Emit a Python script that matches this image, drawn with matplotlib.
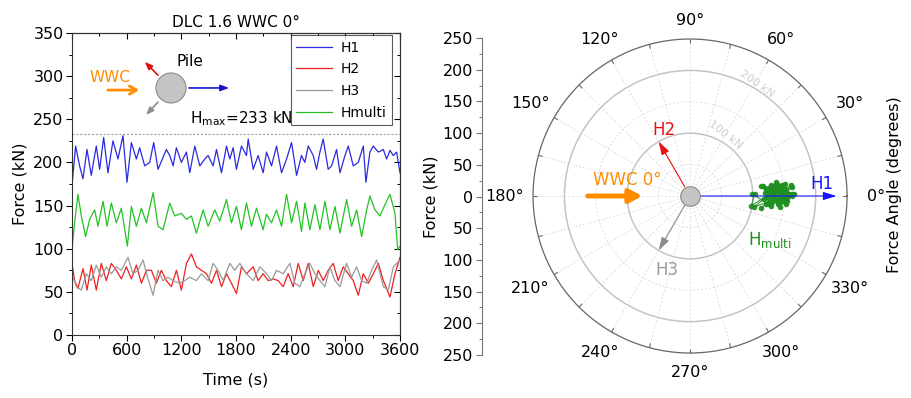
import numpy as np
import matplotlib
matplotlib.use("Agg")
import matplotlib.pyplot as plt
from matplotlib.ticker import MultipleLocator, FuncFormatter
from matplotlib.patches import Ellipse

# ---------------- data ----------------
t_h1 = [0, 40, 84, 121, 165, 212, 267, 304, 348, 395,
        450, 505, 560, 604, 652, 707, 743, 798, 853, 897,
        945, 992, 1036, 1073, 1110, 1146, 1201, 1256, 1293, 1348,
        1403, 1458, 1494, 1549, 1586, 1641, 1696, 1732, 1769, 1805,
        1860, 1915, 1934, 1989, 2043, 2098, 2135, 2190, 2245, 2300,
        2355, 2410, 2465, 2519, 2556, 2593, 2648, 2684, 2721, 2757,
        2812, 2849, 2904, 2941, 2996, 3032, 3087, 3142, 3197, 3226,
        3270, 3307, 3362, 3417, 3453, 3490, 3526, 3563, 3600]
h1 = [173, 219, 196, 181, 215, 185, 219, 192, 229, 188,
      225, 204, 231, 177, 223, 204, 217, 196, 200, 223,
      192, 204, 215, 208, 196, 217, 200, 212, 188, 219,
      196, 204, 208, 196, 215, 188, 219, 204, 217, 192,
      219, 208, 227, 192, 208, 188, 212, 196, 219, 188,
      204, 223, 185, 208, 200, 219, 208, 192, 212, 227,
      192, 196, 215, 188, 208, 219, 196, 200, 219, 177,
      212, 219, 212, 215, 204, 214, 208, 212, 188]

t_h2 = [0, 29, 66, 121, 165, 212, 267, 322, 377, 432,
        487, 542, 597, 652, 707, 762, 817, 872, 926, 981,
        1036, 1091, 1146, 1201, 1256, 1311, 1366, 1421, 1476, 1531,
        1586, 1641, 1696, 1750, 1805, 1860, 1915, 1989, 2043, 2098,
        2153, 2208, 2263, 2318, 2373, 2428, 2483, 2538, 2593, 2648,
        2703, 2757, 2812, 2867, 2922, 2977, 3032, 3087, 3142, 3197,
        3252, 3307, 3362, 3417, 3490, 3545, 3600]
h2 = [83, 63, 54, 77, 52, 81, 52, 83, 63, 83,
      75, 65, 79, 65, 81, 60, 75, 75, 60, 75,
      63, 56, 75, 52, 83, 94, 79, 75, 71, 60,
      75, 56, 71, 60, 48, 79, 71, 79, 63, 71,
      63, 65, 63, 56, 71, 56, 83, 63, 83, 56,
      75, 63, 75, 83, 63, 79, 71, 63, 46, 71,
      60, 71, 83, 63, 44, 71, 90]

t_h3 = [0, 48, 103, 157, 212, 267, 322, 377, 432, 487,
        542, 615, 670, 725, 780, 835, 890, 945, 1000, 1055,
        1110, 1183, 1238, 1293, 1366, 1421, 1494, 1549, 1604, 1659,
        1732, 1787, 1842, 1915, 1989, 2062, 2135, 2190, 2245, 2318,
        2391, 2446, 2501, 2556, 2611, 2666, 2721, 2776, 2831, 2886,
        2941, 3014, 3069, 3124, 3179, 3234, 3289, 3343, 3417, 3472,
        3527, 3600]
h3 = [71, 56, 52, 71, 63, 81, 67, 79, 71, 79,
      75, 90, 71, 75, 87, 65, 46, 75, 63, 67,
      63, 60, 63, 67, 63, 71, 63, 83, 75, 63,
      83, 75, 83, 71, 63, 79, 71, 63, 75, 71,
      83, 60, 56, 71, 83, 71, 63, 56, 79, 63,
      56, 83, 67, 79, 63, 60, 75, 87, 56, 52,
      79, 87]

t_hm = [0, 29, 66, 103, 150, 194, 249, 286, 341, 385,
        432, 487, 542, 608, 652, 707, 762, 817, 890, 945,
        1000, 1073, 1128, 1201, 1256, 1311, 1366, 1439, 1494, 1567,
        1622, 1696, 1750, 1805, 1860, 1915, 1970, 2025, 2098, 2135,
        2190, 2245, 2300, 2355, 2410, 2465, 2519, 2556, 2611, 2666,
        2721, 2776, 2831, 2886, 2941, 3014, 3069, 3124, 3179, 3234,
        3270, 3325, 3380, 3435, 3490, 3545, 3574, 3600]
hmulti = [99, 130, 163, 138, 114, 134, 145, 126, 155, 126,
          153, 130, 147, 103, 149, 126, 147, 130, 165, 126,
          122, 153, 138, 141, 134, 138, 118, 145, 126, 145,
          132, 157, 130, 149, 122, 153, 126, 147, 122, 140,
          130, 145, 126, 163, 130, 155, 120, 153, 122, 151,
          122, 155, 122, 149, 118, 157, 126, 145, 114, 145,
          161, 145, 138, 151, 163, 141, 99, 103]
# direction of Hmulti (deg) for the polar trace
hmulti_angle = [2, -7, 5, -3, 8, 1, -4, 6, -1, 4,
                -5, 2, 7, -10, 0, 5, -2, 8, 1, -4,
                4, -1, 6, -5, 2, 9, -2, 0, 5, -7,
                3, 1, -4, 7, -1, 2, -6, 5, 0, 8,
                -2, 4, -5, 1, 6, -3, 2, 7, -1, 4,
                -6, 0, 5, -2, 8, 1, -5, 3, -10, 2,
                6, -1, 4, -3, 0, 5, -9, 2]

h_max = 233
arrow_names = ["H1", "H2", "H3"]
arrow_angles = [0, 120, 240]       # deg
arrow_mags = [233, 100, 100]       # kN
series_labels = ["H1", "H2", "H3", "Hmulti"]
theta_labels = [0, 30, 60, 90, 120, 150, 180, 210, 240, 270, 300, 330]

C_BLUE = "#2a2ae0"
C_RED = "#ee2020"
C_GRAY = "#9a9a9a"
C_GREEN = "#22c322"
C_DGREEN = "#1f8f1f"
C_ORANGE = "#ff8c00"

plt.rcParams["font.family"] = ["DejaVu Sans"]
FS = 11.5

fig = plt.figure(figsize=(9.12, 3.98), dpi=100)

# ---------------- left: time series ----------------
ax1 = fig.add_axes([0.0789, 0.1583, 0.3597, 0.7588])
kw = dict(lw=0.9, solid_joinstyle="round")
ax1.plot(t_h1, h1, color=C_BLUE, label=series_labels[0], **kw)
ax1.plot(t_h2, h2, color=C_RED, label=series_labels[1], **kw)
ax1.plot(t_h3, h3, color=C_GRAY, label=series_labels[2], **kw)
ax1.plot(t_hm, hmulti, color=C_GREEN, label=series_labels[3], **kw)
ax1.axhline(h_max, color="#a0a0a0", lw=0.8, ls=(0, (2, 1.5)))
ax1.set_xlim(0, 3600)
ax1.set_ylim(0, 350)
ax1.xaxis.set_major_locator(MultipleLocator(600))
ax1.xaxis.set_minor_locator(MultipleLocator(300))
ax1.yaxis.set_major_locator(MultipleLocator(50))
ax1.yaxis.set_minor_locator(MultipleLocator(25))
ax1.tick_params(which="major", direction="out", length=4, width=0.8, labelsize=FS, pad=2)
ax1.tick_params(which="minor", direction="out", length=2.2, width=0.7)
for s in ax1.spines.values():
    s.set_linewidth(0.8)
    s.set_color("#333333")
top = ax1.secondary_xaxis("top")
top.xaxis.set_major_locator(MultipleLocator(600))
top.xaxis.set_minor_locator(MultipleLocator(300))
top.tick_params(which="major", direction="in", length=4, width=0.8, labeltop=False)
top.tick_params(which="minor", direction="in", length=2.2, width=0.7)
right = ax1.secondary_yaxis("right")
right.yaxis.set_major_locator(MultipleLocator(50))
right.yaxis.set_minor_locator(MultipleLocator(25))
right.tick_params(which="major", direction="in", length=4, width=0.8, labelright=False)
right.tick_params(which="minor", direction="in", length=2.2, width=0.7)
ax1.set_xlabel("Time (s)", fontsize=FS, labelpad=10)
ax1.set_ylabel("Force (kN)", fontsize=FS, labelpad=4)
ax1.set_title("DLC 1.6 WWC 0°", fontsize=11, pad=4)

leg = ax1.legend(loc="upper right", bbox_to_anchor=(0.976, 0.993), borderaxespad=0,
                 fontsize=10, frameon=True, fancybox=False, handlelength=2.6,
                 labelspacing=0.55, handletextpad=0.6, borderpad=0.4,
                 markerfirst=True)
leg.get_frame().set_edgecolor("#333333")
leg.get_frame().set_linewidth(0.8)

# schematic in the upper-left corner
T = ax1.transAxes
ax1.text(0.116, 0.851, "WWC", color=C_ORANGE, fontsize=11, ha="center", va="center", transform=T)
ax1.annotate("", xy=(0.213, 0.811), xytext=(0.101, 0.811), xycoords=T, textcoords=T,
             arrowprops=dict(arrowstyle="->,head_length=0.5,head_width=0.3", color=C_ORANGE, lw=2))
ax1.add_patch(Ellipse((0.302, 0.818), 0.0915, 0.0993, transform=T, facecolor="#c4c4c4",
                      edgecolor="#8a8a8a", lw=0.8, zorder=5))
ax1.annotate("", xy=(0.488, 0.818), xytext=(0.348, 0.818), xycoords=T, textcoords=T,
             arrowprops=dict(arrowstyle="-|>,head_length=0.5,head_width=0.18", color="#1515d0", lw=1.2))
ax1.annotate("", xy=(0.216, 0.911), xytext=(0.268, 0.854), xycoords=T, textcoords=T,
             arrowprops=dict(arrowstyle="-|>,head_length=0.45,head_width=0.18", color="#e01010", lw=1.2))
ax1.annotate("", xy=(0.220, 0.722), xytext=(0.268, 0.778), xycoords=T, textcoords=T,
             arrowprops=dict(arrowstyle="-|>,head_length=0.45,head_width=0.18", color="#909090", lw=1.2))
ax1.text(0.36, 0.904, "Pile", fontsize=11, ha="center", va="center", transform=T)
ax1.text(0.518, 0.715, r"H$_{\mathrm{max}}$=233 kN", fontsize=11, ha="center", va="center", transform=T)

# ---------------- right: polar ----------------
axr = fig.add_axes([0.5285, 0.108, 0.002, 0.7965])
axr.set_ylim(-250, 250)
axr.set_xticks([])
axr.yaxis.set_major_locator(MultipleLocator(50))
axr.yaxis.set_minor_locator(MultipleLocator(25))
axr.yaxis.set_major_formatter(FuncFormatter(lambda v, p: f"{abs(int(round(v)))}"))
for k in ["top", "right", "bottom"]:
    axr.spines[k].set_visible(False)
axr.spines["left"].set_color("#777777")
axr.spines["left"].set_linewidth(0.8)
axr.patch.set_visible(False)
axr.tick_params(axis="y", which="major", direction="out", length=4.5, width=0.8,
                color="#777777", labelsize=FS, pad=2)
axr.tick_params(axis="y", which="minor", direction="out", length=2.2, width=0.7, color="#777777")
axr.set_ylabel("Force (kN)", fontsize=FS, labelpad=3)

ax2 = fig.add_axes([0.5845, 0.113, 0.3443, 0.789], projection="polar")
ax2.set_ylim(0, 250)
ax2.set_yticks([50, 100, 150, 200])
ax2.set_yticklabels([])
ax2.set_xticks(np.deg2rad(np.arange(0, 360, 15)))
ax2.set_xticklabels([])
ax2.tick_params(axis="x", length=0)
ax2.grid(True)
for gl, rv in zip(ax2.yaxis.get_gridlines(), [50, 100, 150, 200]):
    if rv % 100 == 0:
        gl.set_color("#c4c4c4"); gl.set_linestyle("-"); gl.set_linewidth(1.1)
    else:
        gl.set_color("#dedede"); gl.set_linestyle((0, (2, 2))); gl.set_linewidth(0.7)
for gl in ax2.xaxis.get_gridlines():
    gl.set_color("#dedede"); gl.set_linestyle((0, (2, 2))); gl.set_linewidth(0.7)
ax2.spines["polar"].set_color("#666666")
ax2.spines["polar"].set_linewidth(0.9)

for a in np.arange(0, 360, 15):
    th = np.deg2rad(a)
    ax2.plot([th, th], [243, 250], color="#666666", lw=0.8, solid_capstyle="butt",
             clip_on=False, zorder=4)

for a in theta_labels:
    th = np.deg2rad(a)
    gap = 19 + 10 * abs(np.cos(th))
    ax2.text(th, 250 * (157 + gap) / 157, f"{a}°", fontsize=FS, ha="center", va="center",
             clip_on=False)

# Hmulti trace
ax2.plot(np.deg2rad(hmulti_angle), hmulti, color=C_DGREEN, lw=0.8, marker="o", ms=3,
         alpha=0.9, zorder=3)

arrow_cols = ["#1515ff", "#e81010", "#8c8c8c"]
for name, ang, mag, col in zip(arrow_names, arrow_angles, arrow_mags, arrow_cols):
    th = np.deg2rad(ang)
    ax2.annotate("", xy=(th, mag), xytext=(th, 17), xycoords="data", textcoords="data",
                 arrowprops=dict(arrowstyle="-|>,head_length=0.8,head_width=0.25",
                                 color=col, lw=0.8, shrinkA=0, shrinkB=0),
                 zorder=6)

ax2.annotate("", xy=(np.pi, 76), xytext=(np.pi, 163), xycoords="data", textcoords="data",
             arrowprops=dict(arrowstyle="-|>,head_length=0.75,head_width=0.4",
                             color=C_ORANGE, lw=3.5, shrinkA=0, shrinkB=0), zorder=6)

ax2.scatter([0], [0], s=200, color="#c4c4c4", edgecolor="#8a8a8a", linewidth=0.8, zorder=7)

T2 = ax2.transAxes
ax2.text(0.2994, 0.551, "WWC 0°", color=C_ORANGE, fontsize=12, ha="center", va="center", transform=T2)
ax2.text(0.920, 0.538, "H1", color="#1515ff", fontsize=12, ha="center", va="center", transform=T2)
ax2.text(0.417, 0.710, "H2", color="#e81010", fontsize=12, ha="center", va="center", transform=T2)
ax2.text(0.427, 0.264, "H3", color="#9a9a9a", fontsize=12, ha="center", va="center", transform=T2)
ax2.text(0.755, 0.360, r"H$_{\mathrm{multi}}$", color=C_DGREEN, fontsize=12, ha="center",
         va="center", transform=T2)
ax2.text(0.713, 0.857, "200 kN", color="#cfcfcf", fontsize=8, rotation=-35, ha="center",
         va="center", transform=T2)
ax2.text(0.611, 0.694, "100 kN", color="#cfcfcf", fontsize=8, rotation=-38, ha="center",
         va="center", transform=T2)

fig.text(895 / 912, 1 - 185 / 398, "Force Angle (degrees)", rotation=90, fontsize=FS,
         ha="center", va="center")

fig.savefig("out.png", dpi=100)
